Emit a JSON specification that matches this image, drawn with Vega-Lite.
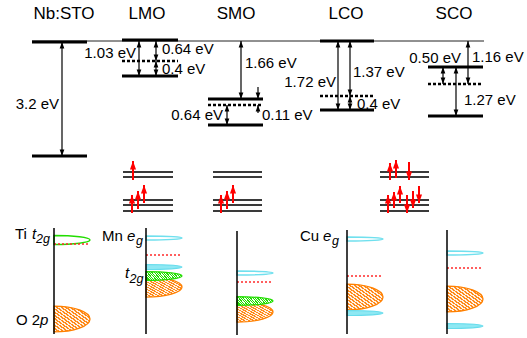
{
"$schema":"https://vega.github.io/schema/vega-lite/v6.json",
"width":527,"height":338,"padding":0,
"autosize":{"type":"fit","contains":"padding"},
"background":"white",
"config":{"view":{"stroke":null}},
"datasets":{
"vac":[{"x":32,"x2":484,"y":41}],
"levelsSolid":[{"x":32,"x2":87,"y":42},{"x":32,"x2":87,"y":156},{"x":122,"x2":178,"y":40},{"x":122,"x2":178,"y":76},{"x":208,"x2":263,"y":99},{"x":208,"x2":263,"y":125},{"x":320,"x2":374,"y":41},{"x":320,"x2":374,"y":110},{"x":428,"x2":483,"y":67},{"x":428,"x2":483,"y":116}],
"levelsDash":[{"x":122,"x2":178,"y":61},{"x":208,"x2":263,"y":105},{"x":320,"x2":374,"y":96},{"x":428,"x2":483,"y":84}],
"arrows":[{"x":62,"top":42,"bot":156,"heads":"both"},{"x":139,"top":41,"bot":76,"heads":"both"},{"x":156,"top":41,"bot":61,"heads":"both"},{"x":156,"top":61,"bot":76,"heads":"both"},{"x":241,"top":41,"bot":99,"heads":"both"},{"x":258,"top":87,"bot":99,"heads":"down"},{"x":258,"top":105,"bot":113,"heads":"up"},{"x":227,"top":105,"bot":125,"heads":"both"},{"x":338,"top":41,"bot":110,"heads":"both"},{"x":350,"top":41,"bot":96,"heads":"both"},{"x":350,"top":96,"bot":110,"heads":"both"},{"x":468,"top":41,"bot":84,"heads":"both"},{"x":443,"top":67,"bot":84,"heads":"both"},{"x":456,"top":67,"bot":116,"heads":"both"}],
"spinLevels":[{"x":123,"x2":173,"y":172},{"x":123,"x2":173,"y":177},{"x":123,"x2":173,"y":200},{"x":123,"x2":173,"y":205},{"x":123,"x2":173,"y":211},{"x":213,"x2":262,"y":172},{"x":213,"x2":262,"y":177},{"x":213,"x2":262,"y":200},{"x":213,"x2":262,"y":205},{"x":213,"x2":262,"y":211},{"x":380,"x2":429,"y":172},{"x":380,"x2":429,"y":177},{"x":380,"x2":429,"y":200},{"x":380,"x2":429,"y":205},{"x":380,"x2":429,"y":211}],
"spins":[{"x":133,"top":161,"bot":180,"dir":"up"},{"x":132,"top":195,"bot":213,"dir":"up"},{"x":138,"top":191,"bot":209,"dir":"up"},{"x":144,"top":185,"bot":203,"dir":"up"},{"x":221,"top":195,"bot":213,"dir":"up"},{"x":227,"top":191,"bot":209,"dir":"up"},{"x":233,"top":185,"bot":203,"dir":"up"},{"x":390,"top":163,"bot":180,"dir":"up"},{"x":396,"top":160,"bot":178,"dir":"up"},{"x":409,"top":162,"bot":180,"dir":"down"},{"x":388,"top":195,"bot":213,"dir":"up"},{"x":394,"top":192,"bot":208,"dir":"up"},{"x":400,"top":186,"bot":203,"dir":"up"},{"x":407,"top":195,"bot":213,"dir":"down"},{"x":413,"top":191,"bot":208,"dir":"down"},{"x":419,"top":186,"bot":203,"dir":"down"}],
"orange":[{"x":54,"y":319,"w":"big"},{"x":146,"y":287,"w":"mid"},{"x":237,"y":312,"w":"mid"},{"x":347,"y":297,"w":"big"},{"x":447,"y":299,"w":"big"}],
"greenH":[{"x":146,"y":276},{"x":237,"y":301}],
"cyanH":[{"x":146,"y":267},{"x":347,"y":313},{"x":447,"y":326}],
"cyanO":[{"x":146,"y":238},{"x":237,"y":273},{"x":347,"y":239},{"x":447,"y":253}],
"greenO":[{"x":54,"y":240}],
"fermi":[{"x":54,"x2":90,"y":244},{"x":146,"x2":182,"y":255},{"x":237,"x2":272,"y":282},{"x":347,"x2":383,"y":276},{"x":447,"x2":483,"y":268}],
"dosAxes":[{"x":54,"top":228,"bot":334},{"x":146,"top":228,"bot":334},{"x":237,"top":231,"bot":335},{"x":347,"top":230,"bot":334},{"x":447,"top":230,"bot":334}],
"titles":[{"x":64,"y":14,"t":"Nb:STO"},{"x":147,"y":14,"t":"LMO"},{"x":236,"y":14,"t":"SMO"},{"x":346,"y":14,"t":"LCO"},{"x":454,"y":14,"t":"SCO"}],
"labelsRight":[{"x":59,"y":104,"t":"3.2 eV"},{"x":136,"y":53,"t":"1.03 eV"},{"x":223,"y":115,"t":"0.64 eV"},{"x":336,"y":82,"t":"1.72 eV"},{"x":461,"y":58,"t":"0.50 eV"}],
"labelsLeft":[{"x":162,"y":49,"t":"0.64 eV"},{"x":162,"y":69,"t":"0.4 eV"},{"x":245,"y":63,"t":"1.66 eV"},{"x":262,"y":115,"t":"0.11 eV"},{"x":353,"y":72,"t":"1.37 eV"},{"x":357,"y":104,"t":"0.4 eV"},{"x":472,"y":57,"t":"1.16 eV"},{"x":464,"y":100,"t":"1.27 eV"}],
"dosNormal":[{"x":15,"y":238.5,"t":"Ti"},{"x":102,"y":240.5,"t":"Mn"},{"x":16,"y":324.5,"t":"O 2"},{"x":300,"y":240.5,"t":"Cu"}],
"dosItalic":[{"x":32,"y":238.5,"t":"t"},{"x":127,"y":240.5,"t":"e"},{"x":125,"y":278,"t":"t"},{"x":40,"y":324.5,"t":"p"},{"x":323,"y":240.5,"t":"e"}],
"dosSub":[{"x":36,"y":242.5,"t":"2g"},{"x":136,"y":244.5,"t":"g"},{"x":129.5,"y":282.5,"t":"2g"},{"x":332,"y":244.5,"t":"g"}]
},
"layer":[
{"data":{"name":"vac"},"mark":{"type":"rule","color":"#222222","strokeWidth":1},
 "encoding":{"x":{"field":"x","type":"quantitative","scale":{"domain":[0,527],"nice":false,"zero":false},"axis":null},"x2":{"field":"x2"},"y":{"field":"y","type":"quantitative","scale":{"domain":[0,338],"nice":false,"zero":false,"reverse":true},"axis":null}}},
{"data":{"name":"levelsSolid"},"mark":{"type":"rule","color":"#000000","strokeWidth":3},
 "encoding":{"x":{"field":"x","type":"quantitative","scale":{"domain":[0,527],"nice":false,"zero":false},"axis":null},"x2":{"field":"x2"},"y":{"field":"y","type":"quantitative","scale":{"domain":[0,338],"nice":false,"zero":false,"reverse":true},"axis":null}}},
{"data":{"name":"levelsDash"},"mark":{"type":"rule","color":"#000000","strokeWidth":2.5,"strokeDash":[3,2]},
 "encoding":{"x":{"field":"x","type":"quantitative","scale":{"domain":[0,527],"nice":false,"zero":false},"axis":null},"x2":{"field":"x2"},"y":{"field":"y","type":"quantitative","scale":{"domain":[0,338],"nice":false,"zero":false,"reverse":true},"axis":null}}},
{"data":{"name":"arrows"},"mark":{"type":"rule","color":"#000000","strokeWidth":1.2},
 "encoding":{"x":{"field":"x","type":"quantitative","scale":{"domain":[0,527],"nice":false,"zero":false},"axis":null},"y":{"field":"top","type":"quantitative","scale":{"domain":[0,338],"nice":false,"zero":false,"reverse":true},"axis":null},"y2":{"field":"bot"}}},
{"data":{"name":"arrows"},"transform":[{"filter":"datum.heads != 'down'"}],
 "mark":{"type":"point","filled":true,"opacity":1,"color":"#000000","strokeWidth":0,"size":169,"shape":"M0,0L-0.36,1L0.36,1Z"},
 "encoding":{"x":{"field":"x","type":"quantitative","scale":{"domain":[0,527],"nice":false,"zero":false},"axis":null},"y":{"field":"top","type":"quantitative","scale":{"domain":[0,338],"nice":false,"zero":false,"reverse":true},"axis":null}}},
{"data":{"name":"arrows"},"transform":[{"filter":"datum.heads != 'up'"}],
 "mark":{"type":"point","filled":true,"opacity":1,"color":"#000000","strokeWidth":0,"size":169,"shape":"M0,0L-0.36,-1L0.36,-1Z"},
 "encoding":{"x":{"field":"x","type":"quantitative","scale":{"domain":[0,527],"nice":false,"zero":false},"axis":null},"y":{"field":"bot","type":"quantitative","scale":{"domain":[0,338],"nice":false,"zero":false,"reverse":true},"axis":null}}},
{"data":{"name":"spinLevels"},"mark":{"type":"rule","color":"#3a3a3a","strokeWidth":2.2},
 "encoding":{"x":{"field":"x","type":"quantitative","scale":{"domain":[0,527],"nice":false,"zero":false},"axis":null},"x2":{"field":"x2"},"y":{"field":"y","type":"quantitative","scale":{"domain":[0,338],"nice":false,"zero":false,"reverse":true},"axis":null}}},
{"data":{"name":"spins"},"mark":{"type":"rule","color":"#ff0000","strokeWidth":2},
 "encoding":{"x":{"field":"x","type":"quantitative","scale":{"domain":[0,527],"nice":false,"zero":false},"axis":null},"y":{"field":"top","type":"quantitative","scale":{"domain":[0,338],"nice":false,"zero":false,"reverse":true},"axis":null},"y2":{"field":"bot"}}},
{"data":{"name":"spins"},"transform":[{"filter":"datum.dir == 'up'"}],
 "mark":{"type":"point","filled":true,"opacity":1,"color":"#ff0000","strokeWidth":0,"size":289,"shape":"M0,0L-0.36,1L0.36,1Z"},
 "encoding":{"x":{"field":"x","type":"quantitative","scale":{"domain":[0,527],"nice":false,"zero":false},"axis":null},"y":{"field":"top","type":"quantitative","scale":{"domain":[0,338],"nice":false,"zero":false,"reverse":true},"axis":null}}},
{"data":{"name":"spins"},"transform":[{"filter":"datum.dir == 'down'"}],
 "mark":{"type":"point","filled":true,"opacity":1,"color":"#ff0000","strokeWidth":0,"size":289,"shape":"M0,0L-0.36,-1L0.36,-1Z"},
 "encoding":{"x":{"field":"x","type":"quantitative","scale":{"domain":[0,527],"nice":false,"zero":false},"axis":null},"y":{"field":"bot","type":"quantitative","scale":{"domain":[0,338],"nice":false,"zero":false,"reverse":true},"axis":null}}},
{"data":{"name":"orange"},"transform":[{"filter":"datum.w == 'big'"}],
 "mark":{"type":"point","filled":true,"opacity":1,"stroke":"#ff8000","strokeWidth":1.3,"size":5184,"shape":"M0,-0.36C0.5523,-0.36,1,-0.1988,1,0C1,0.1988,0.5523,0.36,0,0.36Z",
  "fill":{"gradient":"linear","x1":0,"y1":1,"x2":1,"y2":0,"stops":[{"offset":0,"color":"#ff8a1a"},{"offset":0.03125,"color":"#ff8a1a"},{"offset":0.03125,"color":"#fff1e3"},{"offset":0.0625,"color":"#fff1e3"},{"offset":0.0625,"color":"#ff8a1a"},{"offset":0.09375,"color":"#ff8a1a"},{"offset":0.09375,"color":"#fff1e3"},{"offset":0.125,"color":"#fff1e3"},{"offset":0.125,"color":"#ff8a1a"},{"offset":0.15625,"color":"#ff8a1a"},{"offset":0.15625,"color":"#fff1e3"},{"offset":0.1875,"color":"#fff1e3"},{"offset":0.1875,"color":"#ff8a1a"},{"offset":0.21875,"color":"#ff8a1a"},{"offset":0.21875,"color":"#fff1e3"},{"offset":0.25,"color":"#fff1e3"},{"offset":0.25,"color":"#ff8a1a"},{"offset":0.28125,"color":"#ff8a1a"},{"offset":0.28125,"color":"#fff1e3"},{"offset":0.3125,"color":"#fff1e3"},{"offset":0.3125,"color":"#ff8a1a"},{"offset":0.34375,"color":"#ff8a1a"},{"offset":0.34375,"color":"#fff1e3"},{"offset":0.375,"color":"#fff1e3"},{"offset":0.375,"color":"#ff8a1a"},{"offset":0.40625,"color":"#ff8a1a"},{"offset":0.40625,"color":"#fff1e3"},{"offset":0.4375,"color":"#fff1e3"},{"offset":0.4375,"color":"#ff8a1a"},{"offset":0.46875,"color":"#ff8a1a"},{"offset":0.46875,"color":"#fff1e3"},{"offset":0.5,"color":"#fff1e3"},{"offset":0.5,"color":"#ff8a1a"},{"offset":0.53125,"color":"#ff8a1a"},{"offset":0.53125,"color":"#fff1e3"},{"offset":0.5625,"color":"#fff1e3"},{"offset":0.5625,"color":"#ff8a1a"},{"offset":0.59375,"color":"#ff8a1a"},{"offset":0.59375,"color":"#fff1e3"},{"offset":0.625,"color":"#fff1e3"},{"offset":0.625,"color":"#ff8a1a"},{"offset":0.65625,"color":"#ff8a1a"},{"offset":0.65625,"color":"#fff1e3"},{"offset":0.6875,"color":"#fff1e3"},{"offset":0.6875,"color":"#ff8a1a"},{"offset":0.71875,"color":"#ff8a1a"},{"offset":0.71875,"color":"#fff1e3"},{"offset":0.75,"color":"#fff1e3"},{"offset":0.75,"color":"#ff8a1a"},{"offset":0.78125,"color":"#ff8a1a"},{"offset":0.78125,"color":"#fff1e3"},{"offset":0.8125,"color":"#fff1e3"},{"offset":0.8125,"color":"#ff8a1a"},{"offset":0.84375,"color":"#ff8a1a"},{"offset":0.84375,"color":"#fff1e3"},{"offset":0.875,"color":"#fff1e3"},{"offset":0.875,"color":"#ff8a1a"},{"offset":0.90625,"color":"#ff8a1a"},{"offset":0.90625,"color":"#fff1e3"},{"offset":0.9375,"color":"#fff1e3"},{"offset":0.9375,"color":"#ff8a1a"},{"offset":0.96875,"color":"#ff8a1a"},{"offset":0.96875,"color":"#fff1e3"},{"offset":1,"color":"#fff1e3"}]}},
 "encoding":{"x":{"field":"x","type":"quantitative","scale":{"domain":[0,527],"nice":false,"zero":false},"axis":null},"y":{"field":"y","type":"quantitative","scale":{"domain":[0,338],"nice":false,"zero":false,"reverse":true},"axis":null}}},
{"data":{"name":"orange"},"transform":[{"filter":"datum.w == 'mid'"}],
 "mark":{"type":"point","filled":true,"opacity":1,"stroke":"#ff8000","strokeWidth":1.3,"size":5184,"shape":"M0,-0.28C0.5523,-0.28,1,-0.1546,1,0C1,0.1546,0.5523,0.28,0,0.28Z",
  "fill":{"gradient":"linear","x1":0,"y1":1,"x2":1,"y2":0,"stops":[{"offset":0,"color":"#ff8a1a"},{"offset":0.03125,"color":"#ff8a1a"},{"offset":0.03125,"color":"#fff1e3"},{"offset":0.0625,"color":"#fff1e3"},{"offset":0.0625,"color":"#ff8a1a"},{"offset":0.09375,"color":"#ff8a1a"},{"offset":0.09375,"color":"#fff1e3"},{"offset":0.125,"color":"#fff1e3"},{"offset":0.125,"color":"#ff8a1a"},{"offset":0.15625,"color":"#ff8a1a"},{"offset":0.15625,"color":"#fff1e3"},{"offset":0.1875,"color":"#fff1e3"},{"offset":0.1875,"color":"#ff8a1a"},{"offset":0.21875,"color":"#ff8a1a"},{"offset":0.21875,"color":"#fff1e3"},{"offset":0.25,"color":"#fff1e3"},{"offset":0.25,"color":"#ff8a1a"},{"offset":0.28125,"color":"#ff8a1a"},{"offset":0.28125,"color":"#fff1e3"},{"offset":0.3125,"color":"#fff1e3"},{"offset":0.3125,"color":"#ff8a1a"},{"offset":0.34375,"color":"#ff8a1a"},{"offset":0.34375,"color":"#fff1e3"},{"offset":0.375,"color":"#fff1e3"},{"offset":0.375,"color":"#ff8a1a"},{"offset":0.40625,"color":"#ff8a1a"},{"offset":0.40625,"color":"#fff1e3"},{"offset":0.4375,"color":"#fff1e3"},{"offset":0.4375,"color":"#ff8a1a"},{"offset":0.46875,"color":"#ff8a1a"},{"offset":0.46875,"color":"#fff1e3"},{"offset":0.5,"color":"#fff1e3"},{"offset":0.5,"color":"#ff8a1a"},{"offset":0.53125,"color":"#ff8a1a"},{"offset":0.53125,"color":"#fff1e3"},{"offset":0.5625,"color":"#fff1e3"},{"offset":0.5625,"color":"#ff8a1a"},{"offset":0.59375,"color":"#ff8a1a"},{"offset":0.59375,"color":"#fff1e3"},{"offset":0.625,"color":"#fff1e3"},{"offset":0.625,"color":"#ff8a1a"},{"offset":0.65625,"color":"#ff8a1a"},{"offset":0.65625,"color":"#fff1e3"},{"offset":0.6875,"color":"#fff1e3"},{"offset":0.6875,"color":"#ff8a1a"},{"offset":0.71875,"color":"#ff8a1a"},{"offset":0.71875,"color":"#fff1e3"},{"offset":0.75,"color":"#fff1e3"},{"offset":0.75,"color":"#ff8a1a"},{"offset":0.78125,"color":"#ff8a1a"},{"offset":0.78125,"color":"#fff1e3"},{"offset":0.8125,"color":"#fff1e3"},{"offset":0.8125,"color":"#ff8a1a"},{"offset":0.84375,"color":"#ff8a1a"},{"offset":0.84375,"color":"#fff1e3"},{"offset":0.875,"color":"#fff1e3"},{"offset":0.875,"color":"#ff8a1a"},{"offset":0.90625,"color":"#ff8a1a"},{"offset":0.90625,"color":"#fff1e3"},{"offset":0.9375,"color":"#fff1e3"},{"offset":0.9375,"color":"#ff8a1a"},{"offset":0.96875,"color":"#ff8a1a"},{"offset":0.96875,"color":"#fff1e3"},{"offset":1,"color":"#fff1e3"}]}},
 "encoding":{"x":{"field":"x","type":"quantitative","scale":{"domain":[0,527],"nice":false,"zero":false},"axis":null},"y":{"field":"y","type":"quantitative","scale":{"domain":[0,338],"nice":false,"zero":false,"reverse":true},"axis":null}}},
{"data":{"name":"greenH"},
 "mark":{"type":"point","filled":true,"opacity":1,"stroke":"#22dd00","strokeWidth":1.3,"size":5184,"shape":"M0,-0.12C0.5523,-0.12,1,-0.0663,1,0C1,0.0663,0.5523,0.12,0,0.12Z",
  "fill":{"gradient":"linear","x1":0,"y1":0.61,"x2":1,"y2":0.39,"stops":[{"offset":0,"color":"#22dd00"},{"offset":0.03125,"color":"#22dd00"},{"offset":0.03125,"color":"#f0fff0"},{"offset":0.0625,"color":"#f0fff0"},{"offset":0.0625,"color":"#22dd00"},{"offset":0.09375,"color":"#22dd00"},{"offset":0.09375,"color":"#f0fff0"},{"offset":0.125,"color":"#f0fff0"},{"offset":0.125,"color":"#22dd00"},{"offset":0.15625,"color":"#22dd00"},{"offset":0.15625,"color":"#f0fff0"},{"offset":0.1875,"color":"#f0fff0"},{"offset":0.1875,"color":"#22dd00"},{"offset":0.21875,"color":"#22dd00"},{"offset":0.21875,"color":"#f0fff0"},{"offset":0.25,"color":"#f0fff0"},{"offset":0.25,"color":"#22dd00"},{"offset":0.28125,"color":"#22dd00"},{"offset":0.28125,"color":"#f0fff0"},{"offset":0.3125,"color":"#f0fff0"},{"offset":0.3125,"color":"#22dd00"},{"offset":0.34375,"color":"#22dd00"},{"offset":0.34375,"color":"#f0fff0"},{"offset":0.375,"color":"#f0fff0"},{"offset":0.375,"color":"#22dd00"},{"offset":0.40625,"color":"#22dd00"},{"offset":0.40625,"color":"#f0fff0"},{"offset":0.4375,"color":"#f0fff0"},{"offset":0.4375,"color":"#22dd00"},{"offset":0.46875,"color":"#22dd00"},{"offset":0.46875,"color":"#f0fff0"},{"offset":0.5,"color":"#f0fff0"},{"offset":0.5,"color":"#22dd00"},{"offset":0.53125,"color":"#22dd00"},{"offset":0.53125,"color":"#f0fff0"},{"offset":0.5625,"color":"#f0fff0"},{"offset":0.5625,"color":"#22dd00"},{"offset":0.59375,"color":"#22dd00"},{"offset":0.59375,"color":"#f0fff0"},{"offset":0.625,"color":"#f0fff0"},{"offset":0.625,"color":"#22dd00"},{"offset":0.65625,"color":"#22dd00"},{"offset":0.65625,"color":"#f0fff0"},{"offset":0.6875,"color":"#f0fff0"},{"offset":0.6875,"color":"#22dd00"},{"offset":0.71875,"color":"#22dd00"},{"offset":0.71875,"color":"#f0fff0"},{"offset":0.75,"color":"#f0fff0"},{"offset":0.75,"color":"#22dd00"},{"offset":0.78125,"color":"#22dd00"},{"offset":0.78125,"color":"#f0fff0"},{"offset":0.8125,"color":"#f0fff0"},{"offset":0.8125,"color":"#22dd00"},{"offset":0.84375,"color":"#22dd00"},{"offset":0.84375,"color":"#f0fff0"},{"offset":0.875,"color":"#f0fff0"},{"offset":0.875,"color":"#22dd00"},{"offset":0.90625,"color":"#22dd00"},{"offset":0.90625,"color":"#f0fff0"},{"offset":0.9375,"color":"#f0fff0"},{"offset":0.9375,"color":"#22dd00"},{"offset":0.96875,"color":"#22dd00"},{"offset":0.96875,"color":"#f0fff0"},{"offset":1,"color":"#f0fff0"}]}},
 "encoding":{"x":{"field":"x","type":"quantitative","scale":{"domain":[0,527],"nice":false,"zero":false},"axis":null},"y":{"field":"y","type":"quantitative","scale":{"domain":[0,338],"nice":false,"zero":false,"reverse":true},"axis":null}}},
{"data":{"name":"cyanH"},
 "mark":{"type":"point","filled":true,"opacity":1,"fill":"#8ee8f3","stroke":"#66dcec","strokeWidth":1.2,"size":5184,"shape":"M0,-0.07C0.5523,-0.07,1,-0.0387,1,0C1,0.0387,0.5523,0.07,0,0.07Z"},
 "encoding":{"x":{"field":"x","type":"quantitative","scale":{"domain":[0,527],"nice":false,"zero":false},"axis":null},"y":{"field":"y","type":"quantitative","scale":{"domain":[0,338],"nice":false,"zero":false,"reverse":true},"axis":null}}},
{"data":{"name":"greenO"},
 "mark":{"type":"point","filled":false,"opacity":1,"stroke":"#22dd00","strokeWidth":1.4,"size":5184,"shape":"M0,-0.125C0.5523,-0.125,1,-0.069,1,0C1,0.069,0.5523,0.125,0,0.125Z"},
 "encoding":{"x":{"field":"x","type":"quantitative","scale":{"domain":[0,527],"nice":false,"zero":false},"axis":null},"y":{"field":"y","type":"quantitative","scale":{"domain":[0,338],"nice":false,"zero":false,"reverse":true},"axis":null}}},
{"data":{"name":"cyanO"},
 "mark":{"type":"point","filled":false,"opacity":1,"stroke":"#70e0ee","strokeWidth":1.4,"size":5184,"shape":"M0,-0.055C0.5523,-0.055,1,-0.0304,1,0C1,0.0304,0.5523,0.055,0,0.055Z"},
 "encoding":{"x":{"field":"x","type":"quantitative","scale":{"domain":[0,527],"nice":false,"zero":false},"axis":null},"y":{"field":"y","type":"quantitative","scale":{"domain":[0,338],"nice":false,"zero":false,"reverse":true},"axis":null}}},
{"data":{"name":"fermi"},"mark":{"type":"rule","color":"#ff2a2a","strokeWidth":1.5,"strokeDash":[2,2]},
 "encoding":{"x":{"field":"x","type":"quantitative","scale":{"domain":[0,527],"nice":false,"zero":false},"axis":null},"x2":{"field":"x2"},"y":{"field":"y","type":"quantitative","scale":{"domain":[0,338],"nice":false,"zero":false,"reverse":true},"axis":null}}},
{"data":{"name":"dosAxes"},"mark":{"type":"rule","color":"#000000","strokeWidth":1.5},
 "encoding":{"x":{"field":"x","type":"quantitative","scale":{"domain":[0,527],"nice":false,"zero":false},"axis":null},"y":{"field":"top","type":"quantitative","scale":{"domain":[0,338],"nice":false,"zero":false,"reverse":true},"axis":null},"y2":{"field":"bot"}}},
{"data":{"name":"titles"},"mark":{"type":"text","font":"Liberation Sans","fontSize":17,"align":"center","baseline":"middle","color":"#000000"},
 "encoding":{"x":{"field":"x","type":"quantitative","scale":{"domain":[0,527],"nice":false,"zero":false},"axis":null},"y":{"field":"y","type":"quantitative","scale":{"domain":[0,338],"nice":false,"zero":false,"reverse":true},"axis":null},"text":{"field":"t"}}},
{"data":{"name":"labelsRight"},"mark":{"type":"text","font":"Liberation Sans","fontSize":15,"align":"right","baseline":"middle","color":"#000000"},
 "encoding":{"x":{"field":"x","type":"quantitative","scale":{"domain":[0,527],"nice":false,"zero":false},"axis":null},"y":{"field":"y","type":"quantitative","scale":{"domain":[0,338],"nice":false,"zero":false,"reverse":true},"axis":null},"text":{"field":"t"}}},
{"data":{"name":"labelsLeft"},"mark":{"type":"text","font":"Liberation Sans","fontSize":15,"align":"left","baseline":"middle","color":"#000000"},
 "encoding":{"x":{"field":"x","type":"quantitative","scale":{"domain":[0,527],"nice":false,"zero":false},"axis":null},"y":{"field":"y","type":"quantitative","scale":{"domain":[0,338],"nice":false,"zero":false,"reverse":true},"axis":null},"text":{"field":"t"}}},
{"data":{"name":"dosNormal"},"mark":{"type":"text","font":"Liberation Sans","fontSize":15,"align":"left","baseline":"alphabetic","color":"#000000"},
 "encoding":{"x":{"field":"x","type":"quantitative","scale":{"domain":[0,527],"nice":false,"zero":false},"axis":null},"y":{"field":"y","type":"quantitative","scale":{"domain":[0,338],"nice":false,"zero":false,"reverse":true},"axis":null},"text":{"field":"t"}}},
{"data":{"name":"dosItalic"},"mark":{"type":"text","font":"Liberation Sans","fontSize":15,"fontStyle":"italic","align":"left","baseline":"alphabetic","color":"#000000"},
 "encoding":{"x":{"field":"x","type":"quantitative","scale":{"domain":[0,527],"nice":false,"zero":false},"axis":null},"y":{"field":"y","type":"quantitative","scale":{"domain":[0,338],"nice":false,"zero":false,"reverse":true},"axis":null},"text":{"field":"t"}}},
{"data":{"name":"dosSub"},"mark":{"type":"text","font":"Liberation Sans","fontSize":12.5,"fontStyle":"italic","align":"left","baseline":"alphabetic","color":"#000000"},
 "encoding":{"x":{"field":"x","type":"quantitative","scale":{"domain":[0,527],"nice":false,"zero":false},"axis":null},"y":{"field":"y","type":"quantitative","scale":{"domain":[0,338],"nice":false,"zero":false,"reverse":true},"axis":null},"text":{"field":"t"}}}
]
}
